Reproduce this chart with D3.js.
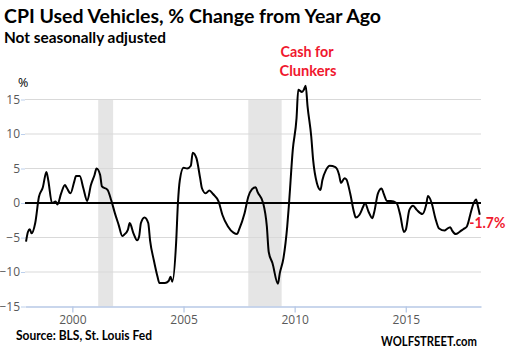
<!DOCTYPE html>
<html>
<head>
<meta charset="utf-8">
<title>CPI Used Vehicles</title>
<script src="https://d3js.org/d3.v7.min.js"></script>
<style>
  body { margin: 0; background: #fff; }
  svg { display: block; }
</style>
</head>
<body>
<script>

// monthly points (turning points kept)
var dates = ["1997-12","1998-01","1998-02","1998-03","1998-05","1998-07","1998-09","1998-11","1998-12","1999-02",
  "1999-04","1999-05","1999-07","1999-09","1999-10","1999-12","2000-02","2000-03","2000-05","2000-07",
  "2000-09","2000-11","2001-01","2001-02","2001-04","2001-05","2001-08","2001-10","2001-12","2002-02",
  "2002-04","2002-05","2002-07","2002-08","2002-10","2002-12","2003-01","2003-02","2003-04","2003-06",
  "2003-07","2003-09","2003-11","2003-12","2004-03","2004-05","2004-06","2004-07","2004-09","2004-10",
  "2004-11","2005-01","2005-03","2005-05","2005-06","2005-08","2005-10","2005-11","2006-01","2006-03",
  "2006-05","2006-08","2006-10","2007-01","2007-04","2007-06","2007-07","2007-10","2007-12","2008-02",
  "2008-04","2008-05","2008-08","2008-10","2008-11","2009-01","2009-04","2009-05","2009-07","2009-09",
  "2009-10","2009-12","2010-02","2010-03","2010-05","2010-06","2010-07","2010-08","2010-10","2010-11",
  "2011-01","2011-03","2011-04","2011-06","2011-08","2011-11","2012-01","2012-02","2012-04","2012-05",
  "2012-07","2012-09","2012-10","2012-12","2013-02","2013-03","2013-05","2013-07","2013-08","2013-10",
  "2013-12","2014-01","2014-03","2014-05","2014-08","2014-10","2014-12","2015-01","2015-03","2015-05",
  "2015-07","2015-10","2015-12","2016-01","2016-03","2016-05","2016-07","2016-10","2016-11","2017-01",
  "2017-02","2017-04","2017-06","2017-08","2017-10","2017-12","2018-01","2018-03","2018-04","2018-05"];

var values = [-5.6,-4.2,-3.8,-4.4,-2.9,0.9,2.2,4.5,3.3,0,
  0.2,-0.2,1.4,2.6,2.2,1.4,3.1,3.9,3.9,2.1,
  0.3,2.6,4.1,5.0,4.1,2.4,1.9,0.4,-1.5,-3.2,
  -4.8,-4.6,-3.9,-2.9,-4.4,-5.4,-4.9,-2.9,-2.1,-2.9,
  -5.4,-8.3,-10.7,-11.6,-11.6,-11.3,-10.7,-11.4,-5.8,0,
  3.3,5.1,5.0,5.4,7.3,6.5,3.6,2.1,1.4,1.8,
  1.3,0.2,-1.7,-3.4,-4.3,-4.5,-3.9,-1.5,0.9,2.0,
  2.3,1.6,0,-3.4,-7.1,-8.7,-11.7,-10.2,-8.0,-3.4,
  0,7.7,12.3,16.4,16.1,16.4,17.0,14.0,9.6,6.2,
  2.9,1.9,3.3,4.8,5.4,5.2,4.1,2.9,3.6,3.4,
  1.4,-1.3,-2.1,-1.7,-0.5,0,-1.3,-2.2,-1.3,1.4,
  2.1,1.4,0.3,0.3,0,-1.7,-4.2,-3.9,-1.0,-0.4,
  -1.0,-1.6,-0.3,1.0,0,-2.2,-3.7,-4.0,-3.8,-3.5,
  -4.0,-4.5,-4.2,-3.8,-3.4,-1.5,-0.5,0.5,-0.5,-1.7];

// recessions
var recStart = ["2001-03","2007-12"];
var recEnd   = ["2001-11","2009-06"];

var yTicks = [-15,-10,-5,0,5,10,15];
var xTicks = ["2000","2005","2010","2015"];

var parseMonth = d3.timeParse("%Y-%m");
var parseYear = d3.timeParse("%Y");

var data = dates.map(function(d,i){ return {date: parseMonth(d), value: values[i]}; });
var lastPoint = data[data.length-1];

var width = 508, height = 358;
var plotLeft = 25, plotRight = 481, plotTop = 99.5, plotBottom = 306.5;

var x = d3.scaleTime()
    .domain([new Date(1997,10,14), new Date(2018,4,21)])
    .range([plotLeft, plotRight]);

var y = d3.scaleLinear()
    .domain([-15, 15])
    .range([plotBottom, plotTop]);

var svg = d3.select("body").append("svg")
    .attr("width", width)
    .attr("height", height);

// recession bands
svg.selectAll("rect.rec")
    .data(recStart)
  .enter().append("rect")
    .attr("class","rec")
    .attr("x", function(d){ return x(parseMonth(d)); })
    .attr("width", function(d,i){ return x(parseMonth(recEnd[i])) - x(parseMonth(d)); })
    .attr("y", y(15))
    .attr("height", y(-15) - y(15))
    .attr("fill", "#e5e5e5");

// gridlines
svg.selectAll("line.grid")
    .data(yTicks.filter(function(d){ return d != 0 && d != -15; }))
  .enter().append("line")
    .attr("class","grid")
    .attr("x1", plotLeft).attr("x2", plotRight)
    .attr("y1", function(d){ return y(d); })
    .attr("y2", function(d){ return y(d); })
    .attr("stroke", "#d9d9d9")
    .attr("stroke-width", 1);

// y axis labels
var yAxis = d3.axisLeft(y).tickValues(yTicks).tickSize(4).tickPadding(1).tickFormat(d3.format("d"));
var gy = svg.append("g")
    .attr("transform", "translate(" + plotLeft + ",0)")
    .call(yAxis);
gy.select(".domain").remove();
gy.selectAll(".tick line").attr("stroke", "#bdd0ec");
gy.selectAll(".tick text")
    .attr("fill", "#595959")
    .style("font-family", "'Open Sans', sans-serif")
    .style("font-size", "12px");

// x axis
var xAxis = d3.axisBottom(x)
    .tickValues(xTicks.map(function(d){ return parseYear(d); }))
    .tickSize(6).tickSizeOuter(0).tickPadding(3)
    .tickFormat(d3.timeFormat("%Y"));
var gx = svg.append("g")
    .attr("transform", "translate(0," + plotBottom + ")")
    .call(xAxis);
gx.select(".domain").attr("stroke", "#b7c9e6").attr("stroke-width", 1.3);
gx.selectAll(".tick line").attr("stroke", "#b7c9e6").attr("stroke-width", 1.3);
gx.selectAll(".tick text")
    .attr("fill", "#595959")
    .style("font-family", "'Open Sans', sans-serif")
    .style("font-size", "12px");

// zero line
svg.append("line")
    .attr("x1", plotLeft).attr("x2", plotRight)
    .attr("y1", y(0)).attr("y2", y(0))
    .attr("stroke", "#000")
    .attr("stroke-width", 2);

// the series
var line = d3.line()
    .x(function(d){ return x(d.date); })
    .y(function(d){ return y(d.value); })
    .curve(d3.curveMonotoneX);

svg.append("path")
    .datum(data)
    .attr("d", line)
    .attr("fill", "none")
    .attr("stroke", "#000")
    .attr("stroke-width", 2)
    .attr("stroke-linejoin", "round");

// texts
function label(txt, px, py, size, color, len, anchor){
  var t = svg.append("text")
    .attr("x", px).attr("y", py)
    .attr("fill", color)
    .attr("text-anchor", anchor || "start")
    .style("font-family", "Lato, 'Open Sans', sans-serif")
    .style("font-weight", "bold")
    .style("font-size", size + "px")
    .text(txt);
  if (len) t.attr("textLength", len).attr("lengthAdjust", "spacingAndGlyphs");
  return t;
}

label("CPI Used Vehicles, % Change from Year Ago", 4, 23, 19, "#000", 377);
label("Not seasonally adjusted", 4, 43, 14.5, "#000", 162);
label("Cash for", 307, 57, 14.5, "#f0182e", 53, "middle");
label("Clunkers", 308, 76, 14.5, "#f0182e", 57, "middle");
label("-1.7%", x(lastPoint.date) - 10.5, y(lastPoint.value) + 13, 15, "#f0182e", 36);
label("Source: BLS, St. Louis Fed", 16, 340, 13, "#000", 136);
label("WOLFSTREET.com", 381, 346, 13, "#000", 96);

svg.append("text")
    .attr("x", 18).attr("y", 87)
    .attr("fill", "#000")
    .style("font-family", "'Open Sans', sans-serif")
    .style("font-size", "12.5px")
    .text("%");

</script>
</body>
</html>
